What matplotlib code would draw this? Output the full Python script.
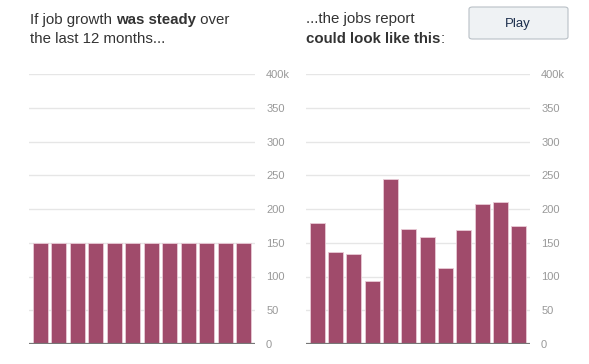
import matplotlib
matplotlib.use("Agg")
import matplotlib.pyplot as plt
from matplotlib.patches import FancyBboxPatch

months = list(range(12))
steady = [150] * 12
report = [179, 137, 134, 94, 244, 171, 158, 112, 169, 208, 211, 175]
yticks = [0, 50, 100, 150, 200, 250, 300, 350, 400]
ylabels = ["0", "50", "100", "150", "200", "250", "300", "350", "400k"]

BAR = "#a04b6b"
W, H = 589, 364

plt.rcParams['font.family'] = ['Liberation Sans', 'DejaVu Sans']

fig = plt.figure(figsize=(W / 100, H / 100), dpi=100)


def px(x, y):
    return x / W, 1 - y / H


def panel(left, right, values):
    ax = fig.add_axes([left / W, 1 - 344 / H, (right - left) / W, 270 / H])
    ax.bar(months, values, width=0.82, color=BAR, edgecolor="#e9cbd6", linewidth=0.6, zorder=2)
    ax.set_ylim(0, 400)
    ax.set_xlim(-0.62, 11.62)
    ax.set_yticks(yticks)
    ax.set_yticklabels(ylabels)
    ax.yaxis.tick_right()
    ax.tick_params(axis='y', length=0, pad=8, labelsize=8, labelcolor="#999999")
    ax.set_xticks([])
    for s in ax.spines.values():
        s.set_visible(False)
    ax.grid(axis='y', color="#e6e6e6", linewidth=1, zorder=0)
    ax.axhline(0, color="#777777", linewidth=1.6, zorder=3)
    return ax


panel(29, 255, steady)
panel(306, 530, report)


def rich(x, y, parts, size=10.8):
    r = fig.canvas.get_renderer()
    fx, fy = px(x, y)
    for txt, bold in parts:
        t = fig.text(fx, fy, txt, fontsize=size, color="#333333",
                     fontweight='bold' if bold else 'normal', va='baseline', ha='left')
        bb = t.get_window_extent(renderer=r)
        fx += bb.width / W


rich(30, 24, [("If job growth ", False), ("was steady", True), (" over", False)])
rich(30, 43, [("the last 12 months...", False)])
rich(306, 23, [("...the jobs report", False)])
rich(306, 43, [("could look like this", True), (":", False)])

bx, by = px(469, 39)
btn = FancyBboxPatch((bx, by), 99 / W, 32 / H, boxstyle="round,pad=0,rounding_size=0.006",
                     transform=fig.transFigure, facecolor="#eff2f4", edgecolor="#b9c0c6",
                     linewidth=0.8)
fig.patches.append(btn)
tx, ty = px(518, 24)
fig.text(tx, ty, "Play", fontsize=9.5, color="#1d2f4d", ha='center', va='center')

fig.savefig("out.png", dpi=100)
